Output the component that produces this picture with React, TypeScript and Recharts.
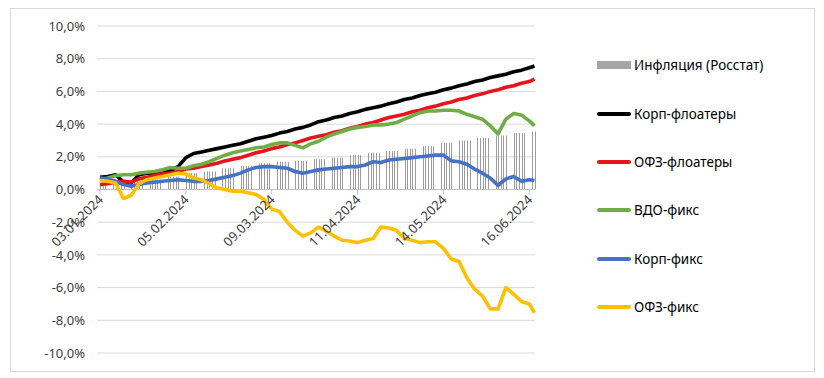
import { ComposedChart, Bar, Line, XAxis, YAxis, CartesianGrid, ReferenceLine, ReferenceDot } from 'recharts';

// dates of the line samples (2024)
const sampleDates = [
  '03.01', '06.01', '09.01', '12.01', '15.01', '18.01', '21.01', '24.01', '27.01', '30.01',
  '02.02', '05.02', '08.02', '11.02', '14.02', '17.02', '20.02', '23.02', '26.02', '29.02',
  '03.03', '06.03', '09.03', '12.03', '15.03', '18.03', '21.03', '24.03', '27.03', '30.03',
  '02.04', '05.04', '08.04', '11.04', '14.04', '17.04', '20.04', '23.04', '26.04', '29.04',
  '02.05', '05.05', '08.05', '11.05', '14.05', '17.05', '20.05', '23.05', '26.05', '29.05',
  '01.06', '04.06', '07.06', '10.06', '13.06', '16.06', '18.06',
];

const korpFloat = [
  0.75, 0.8, 0.9, 0.45, 0.4, 0.9, 1.0, 1.0, 1.1, 1.15,
  1.4, 1.95, 2.2, 2.3, 2.4, 2.5, 2.6, 2.7, 2.8, 2.95,
  3.1, 3.2, 3.3, 3.45, 3.55, 3.7, 3.8, 3.95, 4.15, 4.25,
  4.4, 4.5, 4.65, 4.75, 4.9, 5.0, 5.1, 5.25, 5.35, 5.5,
  5.6, 5.75, 5.85, 5.95, 6.1, 6.2, 6.35, 6.45, 6.6, 6.7,
  6.85, 6.95, 7.05, 7.2, 7.3, 7.45, 7.55,
];
const ofzFloat = [
  0.3, 0.35, 0.45, 0.5, 0.45, 0.65, 0.75, 0.85, 0.95, 1.0,
  1.1, 1.25, 1.3, 1.4, 1.5, 1.6, 1.75, 1.85, 1.95, 2.1,
  2.25, 2.35, 2.5, 2.6, 2.75, 2.85, 3.0, 3.15, 3.25, 3.35,
  3.5, 3.6, 3.75, 3.85, 4.0, 4.1, 4.25, 4.4, 4.5, 4.6,
  4.75, 4.85, 5.0, 5.1, 5.25, 5.35, 5.5, 5.6, 5.75, 5.85,
  6.0, 6.1, 6.25, 6.35, 6.5, 6.6, 6.75,
];
const vdoFix = [
  0.6, 0.7, 0.85, 0.9, 0.9, 1.0, 1.05, 1.1, 1.2, 1.35,
  1.3, 1.3, 1.45, 1.55, 1.7, 1.9, 2.1, 2.25, 2.35, 2.45,
  2.55, 2.6, 2.75, 2.85, 2.85, 2.7, 2.55, 2.8, 2.95, 3.2,
  3.4, 3.55, 3.7, 3.8, 3.85, 3.95, 3.95, 4.0, 4.1, 4.3,
  4.5, 4.7, 4.8, 4.8, 4.85, 4.85, 4.8, 4.6, 4.45, 4.3,
  3.9, 3.4, 4.3, 4.65, 4.55, 4.2, 3.9,
];
const korpFix = [
  0.7, 0.65, 0.5, 0.3, 0.2, 0.3, 0.4, 0.45, 0.5, 0.55,
  0.6, 0.55, 0.5, 0.5, 0.55, 0.65, 0.75, 0.85, 1.0, 1.2,
  1.35, 1.4, 1.4, 1.35, 1.3, 1.1, 1.0, 1.1, 1.2, 1.25,
  1.3, 1.35, 1.4, 1.4, 1.5, 1.7, 1.65, 1.8, 1.85, 1.9,
  1.95, 2.0, 2.05, 2.1, 2.1, 1.75, 1.7, 1.55, 1.25, 1.0,
  0.7, 0.25, 0.65, 0.8, 0.5, 0.6, 0.55,
];
const ofzFix = [
  0.55, 0.5, 0.4, -0.55, -0.35, 0.35, 0.6, 0.7, 0.8, 0.9,
  1.0, 0.95, 0.7, 0.6, 0.35, 0.1, 0.0, -0.1, -0.1, -0.2,
  -0.3, -0.6, -1.2, -1.35, -2.0, -2.5, -2.85, -2.65, -2.3, -2.55,
  -2.85, -3.1, -3.15, -3.25, -3.1, -3.0, -2.3, -2.35, -2.5, -3.0,
  -3.1, -3.25, -3.2, -3.2, -3.6, -4.25, -4.4, -5.4, -6.1, -6.5,
  -7.3, -7.3, -6.0, -6.4, -6.85, -7.0, -7.55,
];

// cumulative CPI since start of year, one value per week (Mon-Sun), first week = 01.01-07.01
const inflationWeekly = [
  0.2, 0.35, 0.5, 0.6, 0.8, 1.0, 1.1, 1.3, 1.45, 1.6,
  1.7, 1.75, 1.85, 1.95, 2.1, 2.25, 2.35, 2.5, 2.65, 2.85,
  3.0, 3.15, 3.3, 3.45, 3.55,
];

const tickDates = ['03.01.2024', '05.02.2024', '09.03.2024', '11.04.2024', '14.05.2024', '16.06.2024'];
const yTicks = [-10, -8, -6, -4, -2, 0, 2, 4, 6, 8, 10];

const series = [
  { key: 'korpFloat', name: 'Корп-флоатеры', color: '#000000', values: korpFloat },
  { key: 'ofzFloat', name: 'ОФЗ-флоатеры', color: '#e8141b', values: ofzFloat },
  { key: 'vdoFix', name: 'ВДО-фикс', color: '#70ad47', values: vdoFix },
  { key: 'korpFix', name: 'Корп-фикс', color: '#4472c4', values: korpFix },
  { key: 'ofzFix', name: 'ОФЗ-фикс', color: '#ffc000', values: ofzFix },
];

const START = Date.UTC(2024, 0, 3);
const DAY = 86400000;
const dayOf = (s: string) => {
  const [d, m] = s.split('.').map(Number);
  return Math.round((Date.UTC(2024, m - 1, d) - START) / DAY);
};

// merge weekday inflation bars and line samples into one table keyed by day
const rowsByDay = new Map<number, any>();
const row = (d: number) => {
  if (!rowsByDay.has(d)) rowsByDay.set(d, { d });
  return rowsByDay.get(d);
};
const lastDay = dayOf(sampleDates[sampleDates.length - 1]);
for (let d = 0; d <= lastDay; d++) {
  const wd = new Date(START + d * DAY).getUTCDay();
  if (wd === 0 || wd === 6) continue;
  row(d).infl = inflationWeekly[Math.floor((d + 2) / 7)];
}
sampleDates.forEach((s, i) => {
  const r = row(dayOf(s));
  series.forEach((sr) => { r[sr.key] = sr.values[i]; });
});
const data = [...rowsByDay.values()].sort((a, b) => a.d - b.d);

const fmtPct = (v: number) => v.toFixed(1).replace('.', ',') + '%';
const FONT = "'Noto Sans', sans-serif";

const dateTick = (label: string) => (p: any) => {
  const ax = p.cx + 4;
  const ay = p.cy + 11;
  return (
    <g>
      <line x1={p.cx} y1={p.cy} x2={p.cx} y2={p.cy + 5} stroke="#bfbfbf" />
      <text x={ax} y={ay} textAnchor="end" fontSize={13} fontFamily={FONT} fill="#404040"
        transform={`rotate(-45 ${ax} ${ay})`}>{label}</text>
    </g>
  );
};

// thin single-pixel column for each daily inflation value
const ThinBar = (p: any) => {
  if (!p.height) return null;
  const x = Math.round(p.x + p.width / 2) + 0.5;
  return <line x1={x} x2={x} y1={p.y} y2={p.y + p.height} stroke="#9c9c9c" strokeWidth={1} />;
};

const legendItems = [{ name: 'Инфляция (Росстат)', color: '#a6a6a6', bar: true }, ...series];

export default function App() {
  return (
    <div style={{ position: 'relative', marginLeft: 2, width: 803, height: 362, border: '1px solid #d9d9d9', background: '#fff' }}>
      <ComposedChart width={803} height={362} data={data} margin={{ top: 17, right: 279, bottom: 18, left: 26 }}>
        <CartesianGrid vertical={false} stroke="#d9d9d9" />
        <XAxis dataKey="d" type="number" domain={[-1.15, 167.2]} hide />
        <YAxis domain={[-10, 10]} ticks={yTicks} tickFormatter={fmtPct} width={60} axisLine={false} tickLine={false}
          tickSize={0} tickMargin={12} interval={0}
          tick={{ fontSize: 13, fontFamily: FONT, fill: '#404040' }} />
        <ReferenceLine y={0} stroke="#bfbfbf" />
        {tickDates.map((t) => (
          <ReferenceDot key={t} x={dayOf(t.slice(0, 5))} y={0} r={0} ifOverflow="visible" shape={dateTick(t)} />
        ))}
        <Bar dataKey="infl" fill="#9c9c9c" barSize={1} shape={ThinBar} isAnimationActive={false} />
        {series.map((s) => (
          <Line key={s.key} dataKey={s.key} name={s.name} stroke={s.color} strokeWidth={3.6} dot={false}
            connectNulls type="linear" strokeLinejoin="round" isAnimationActive={false} />
        ))}
      </ComposedChart>
      <div style={{ position: 'absolute', left: 586, top: 32, fontFamily: FONT, fontSize: 13.5, color: '#000' }}>
        {legendItems.map((it: any) => (
          <div key={it.name} style={{ display: 'flex', alignItems: 'center', height: 48.4 }}>
            <span style={{ display: 'inline-block', width: 34, height: it.bar ? 8 : 4, background: it.color, borderRadius: it.bar ? 0 : 2, marginRight: 3 }} />
            <span>{it.name}</span>
          </div>
        ))}
      </div>
    </div>
  );
}
